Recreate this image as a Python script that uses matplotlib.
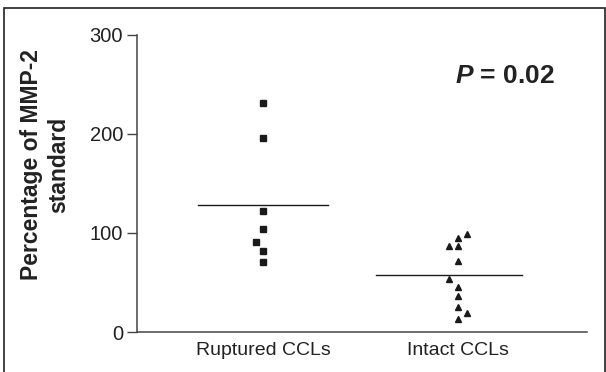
import matplotlib
matplotlib.use("Agg")
import matplotlib.pyplot as plt
from matplotlib.patches import Rectangle

plt.rcParams['font.family'] = ['Liberation Sans', 'DejaVu Sans']
plt.rcParams['mathtext.fontset'] = 'custom'
plt.rcParams['mathtext.bfit'] = 'Liberation Sans:italic:bold'
plt.rcParams['mathtext.it'] = 'Liberation Sans:italic:bold'

categories = ["Ruptured CCLs", "Intact CCLs"]
ruptured = [231, 196, 122, 104, 91, 82, 71]
ruptured_dx = [0, 0, 0, 0, -0.036, 0, 0]
intact = [99, 95, 87, 87, 72, 54, 45, 36, 25, 19, 13]
intact_dx = [0.046, 0, -0.046, 0, 0, -0.046, 0, 0, 0, 0.046, 0]
yticks = [0, 100, 200, 300]

fig = plt.figure(figsize=(6.06, 3.72), dpi=100)
ax = fig.add_axes([137/606, 40/372, 450/606, 297/372])

ax.plot([1 + d for d in ruptured_dx], ruptured, linestyle='none', marker='s',
        markersize=4.3, color='#1a1a1a')
ax.plot([2 + d for d in intact_dx], intact, linestyle='none', marker='^',
        markersize=4.8, color='#1a1a1a')

m1 = sum(ruptured) / len(ruptured)
m2 = sum(intact) / len(intact)
ax.plot([0.667, 1.333], [m1, m1], color='#1a1a1a', lw=1.0)
ax.plot([1.58, 2.33], [m2, m2], color='#1a1a1a', lw=1.0)

ax.set_xlim(0.354, 2.662)
ax.set_ylim(0, 300)
ax.set_yticks(yticks)
ax.set_yticklabels([str(t) for t in yticks], fontsize=14.5, color='#222222')
ax.set_xticks([1.0, 2.0])
ax.set_xticklabels(categories, fontsize=14, color='#222222')
ax.tick_params(axis='x', length=0, pad=7)
ax.tick_params(axis='y', length=7, width=1, color='#444444', pad=3)
for s in ['top', 'right']:
    ax.spines[s].set_visible(False)
for s in ['left', 'bottom']:
    ax.spines[s].set_color('#444444')
    ax.spines[s].set_linewidth(1.1)

fig.text(45/606, 1 - 165/372, "Percentage of MMP-2\nstandard", rotation=90,
         ha='center', va='center', fontsize=16.5, fontweight='bold',
         linespacing=1.2, color='#222222')

fig.text(505/606, 1 - 76/372, r"$\mathit{P}$ = 0.02", fontsize=19,
         fontweight='bold', ha='center', va='center', color='#222222')

fig.patches.append(Rectangle((4/606, -0.01), 601/606, 1 - 8/372 + 0.01,
                             transform=fig.transFigure, fill=False,
                             edgecolor='#222222', lw=1.2))

fig.savefig("out.png", dpi=100)
